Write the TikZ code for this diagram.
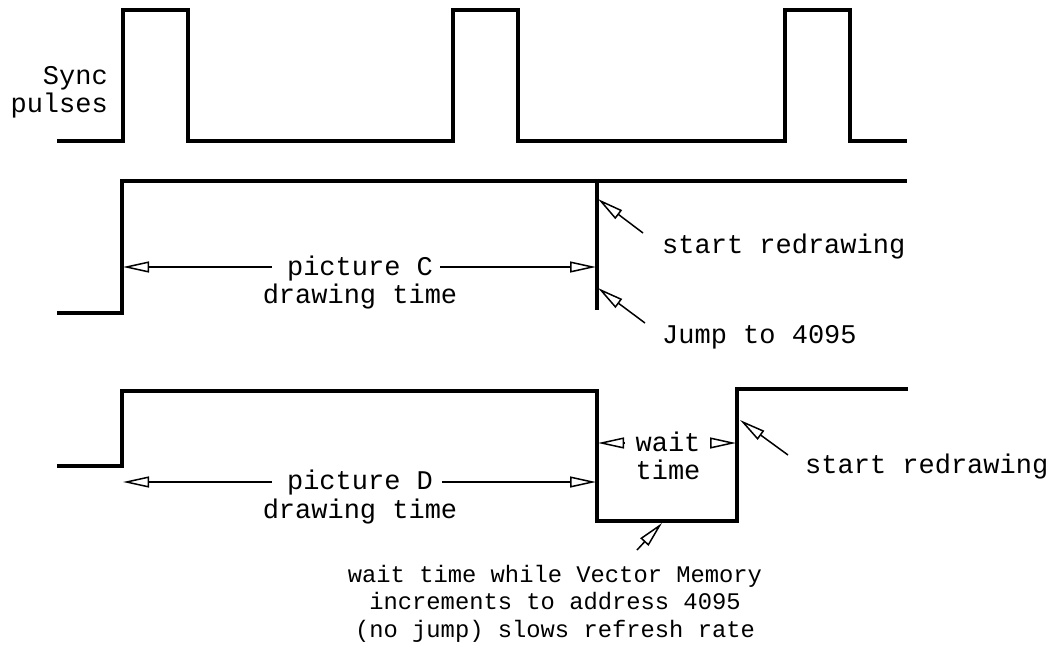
\documentclass[tikz,border=0pt]{standalone}
\usepackage{fontspec}
\setmonofont{Liberation Mono}
\usetikzlibrary{arrows.meta}
\begin{document}
\begin{tikzpicture}[x=1pt,y=-1pt,
  wave/.style={line width=3.2pt, line join=miter},
  oarrow/.style={line width=1.5pt, -{Triangle[open,length=26pt,width=11pt,line width=1.5pt]}},
  lbl/.style={font=\ttfamily\fontsize{27}{28}\selectfont, inner sep=0pt, anchor=base},
  note/.style={font=\ttfamily\fontsize{23.8}{27.5}\selectfont, inner sep=0pt, anchor=base, align=center}]
\fill[white] (0,0) rectangle (1058,648);
\useasboundingbox (0,0) rectangle (1058,648);

% Sync pulses
\draw[wave] (57,141) -- (123,141) -- (123,10) -- (188,10) -- (188,141) -- (453,141) -- (453,10) -- (518,10) -- (518,141) -- (785,141) -- (785,10) -- (850,10) -- (850,141) -- (907,141);
\node[lbl, anchor=base east, align=right] (sync) at (108,112) {Sync\\pulses};

% Trace C
\draw[wave] (57,313) -- (122,313) -- (122,181) -- (907,181);
\draw[wave] (597,181) -- (597,310);
\node[lbl] (picC) at (360,275) {picture C};
\node[lbl] (drC) at (360,303) {drawing time};
\coordinate (cLs) at (272,267); \coordinate (cLt) at (123,267);
\coordinate (cRs) at (440,267); \coordinate (cRt) at (596,267);
\draw[oarrow] (cLs) -- (cLt);
\draw[oarrow] (cRs) -- (cRt);
\node[lbl, anchor=base west] (srC) at (662,253) {start redrawing};
\coordinate (srCs) at (643,233); \coordinate (srCt) at (598,199);
\draw[oarrow] (srCs) -- (srCt);
\node[lbl, anchor=base west] (jmp) at (662,343) {Jump to 4095};
\coordinate (jmps) at (645,323); \coordinate (jmpt) at (598,288);
\draw[oarrow] (jmps) -- (jmpt);

% Trace D
\draw[wave] (57,466) -- (122,466) -- (122,391) -- (597,391) -- (597,521) -- (737,521) -- (737,389) -- (908,389);
\node[lbl] (picD) at (360,489) {picture D};
\node[lbl] (drD) at (360,518) {drawing time};
\coordinate (dLs) at (272,482); \coordinate (dLt) at (123,482);
\coordinate (dRs) at (442,482); \coordinate (dRt) at (596,482);
\draw[oarrow] (dLs) -- (dLt);
\draw[oarrow] (dRs) -- (dRt);
\node[lbl] (wait) at (668,451) {wait};
\node[lbl] (wtime) at (668,479) {time};
\coordinate (wLs) at (625,443); \coordinate (wLt) at (598,443);
\coordinate (wRs) at (710,443); \coordinate (wRt) at (736,443);
\draw[oarrow] (wLs) -- (wLt);
\draw[oarrow] (wRs) -- (wRt);
\node[lbl, anchor=base west] (srD) at (805,473) {start redrawing};
\coordinate (srDs) at (788,455); \coordinate (srDt) at (740,420);
\draw[oarrow] (srDs) -- (srDt);

% bottom note
\coordinate (bs) at (637,550); \coordinate (bt) at (662,523);
\draw[oarrow] (bs) -- (bt);
\node[note] (note) at (555,637) {wait time while Vector Memory\\increments to address 4095\\(no jump) slows refresh rate};
\end{tikzpicture}
\end{document}
